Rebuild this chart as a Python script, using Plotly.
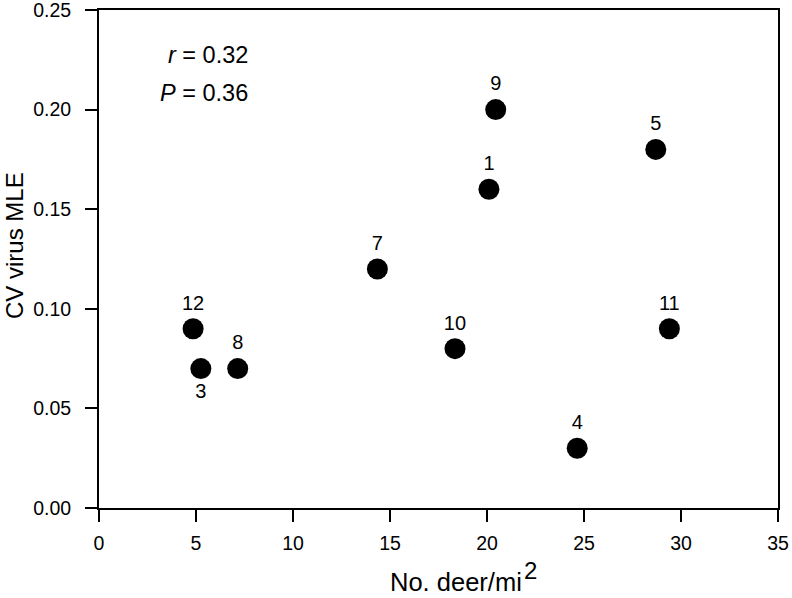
import plotly.graph_objects as go

site = ["1", "3", "4", "5", "7", "8", "9", "10", "11", "12"]
deer_density = [20.1, 5.25, 24.65, 28.7, 14.35, 7.15, 20.45, 18.35, 29.4, 4.85]
cv_virus_mle = [0.16, 0.07, 0.03, 0.18, 0.12, 0.07, 0.20, 0.08, 0.09, 0.09]
label_side = ["top center", "bottom center", "top center", "top center", "top center",
              "top center", "top center", "top center", "top center", "top center"]

x_ticks = [0, 5, 10, 15, 20, 25, 30, 35]
y_ticks = [0.00, 0.05, 0.10, 0.15, 0.20, 0.25]
y_tick_text = ["%.2f" % v for v in y_ticks]

FONT = "Liberation Sans, Arial, sans-serif"

fig = go.Figure()
fig.add_trace(go.Scatter(
    x=deer_density, y=cv_virus_mle, mode="markers+text",
    text=site, textposition=label_side,
    textfont=dict(family=FONT, size=20, color="black"),
    marker=dict(size=21, color="black"),
    cliponaxis=False, showlegend=False, hoverinfo="skip",
))

axis_common = dict(
    showline=True, linecolor="black", linewidth=2, mirror=True,
    ticks="outside", ticklen=12, tickwidth=2, tickcolor="black",
    showgrid=False, zeroline=False, automargin=False,
    ticklabeloverflow="allow",
    tickfont=dict(family=FONT, size=19.5, color="black"),
)

fig.update_xaxes(range=[0, 35], tickvals=x_ticks, ticklabelstandoff=5, **axis_common)
fig.update_yaxes(range=[0, 0.25], tickvals=y_ticks, ticktext=y_tick_text,
                 ticklabelstandoff=10, **axis_common)

# axis titles
fig.add_annotation(x=0.5258, y=-0.1807, xref="paper", yref="paper",
                   xanchor="center", yanchor="bottom", showarrow=False,
                   text="No. deer/mi",
                   font=dict(family=FONT, size=25.5, color="black"))
fig.add_annotation(x=0.6362, y=-0.1255, xref="paper", yref="paper",
                   xanchor="center", yanchor="middle", showarrow=False,
                   text="2",
                   font=dict(family=FONT, size=24, color="black"))
fig.add_annotation(x=-0.1252, y=0.528, xref="paper", yref="paper",
                   xanchor="center", yanchor="middle", showarrow=False,
                   textangle=-90, text="CV virus MLE",
                   font=dict(family=FONT, size=24, color="black"))

# statistics
fig.add_annotation(x=0.2224, y=0.9096, xref="paper", yref="paper",
                   xanchor="right", yanchor="middle", showarrow=False,
                   text="<i>r</i> = 0.32",
                   font=dict(family=FONT, size=23.5, color="black"))
fig.add_annotation(x=0.2224, y=0.8333, xref="paper", yref="paper",
                   xanchor="right", yanchor="middle", showarrow=False,
                   text="<i>P</i> = 0.36",
                   font=dict(family=FONT, size=23.5, color="black"))

fig.update_layout(
    width=792, height=598,
    margin=dict(l=99, r=14, t=10, b=90),
    plot_bgcolor="white", paper_bgcolor="white",
)

fig.write_html("out.html", config={"displayModeBar": False},
               post_script="document.body.style.margin='0';document.body.style.overflow='hidden';")
